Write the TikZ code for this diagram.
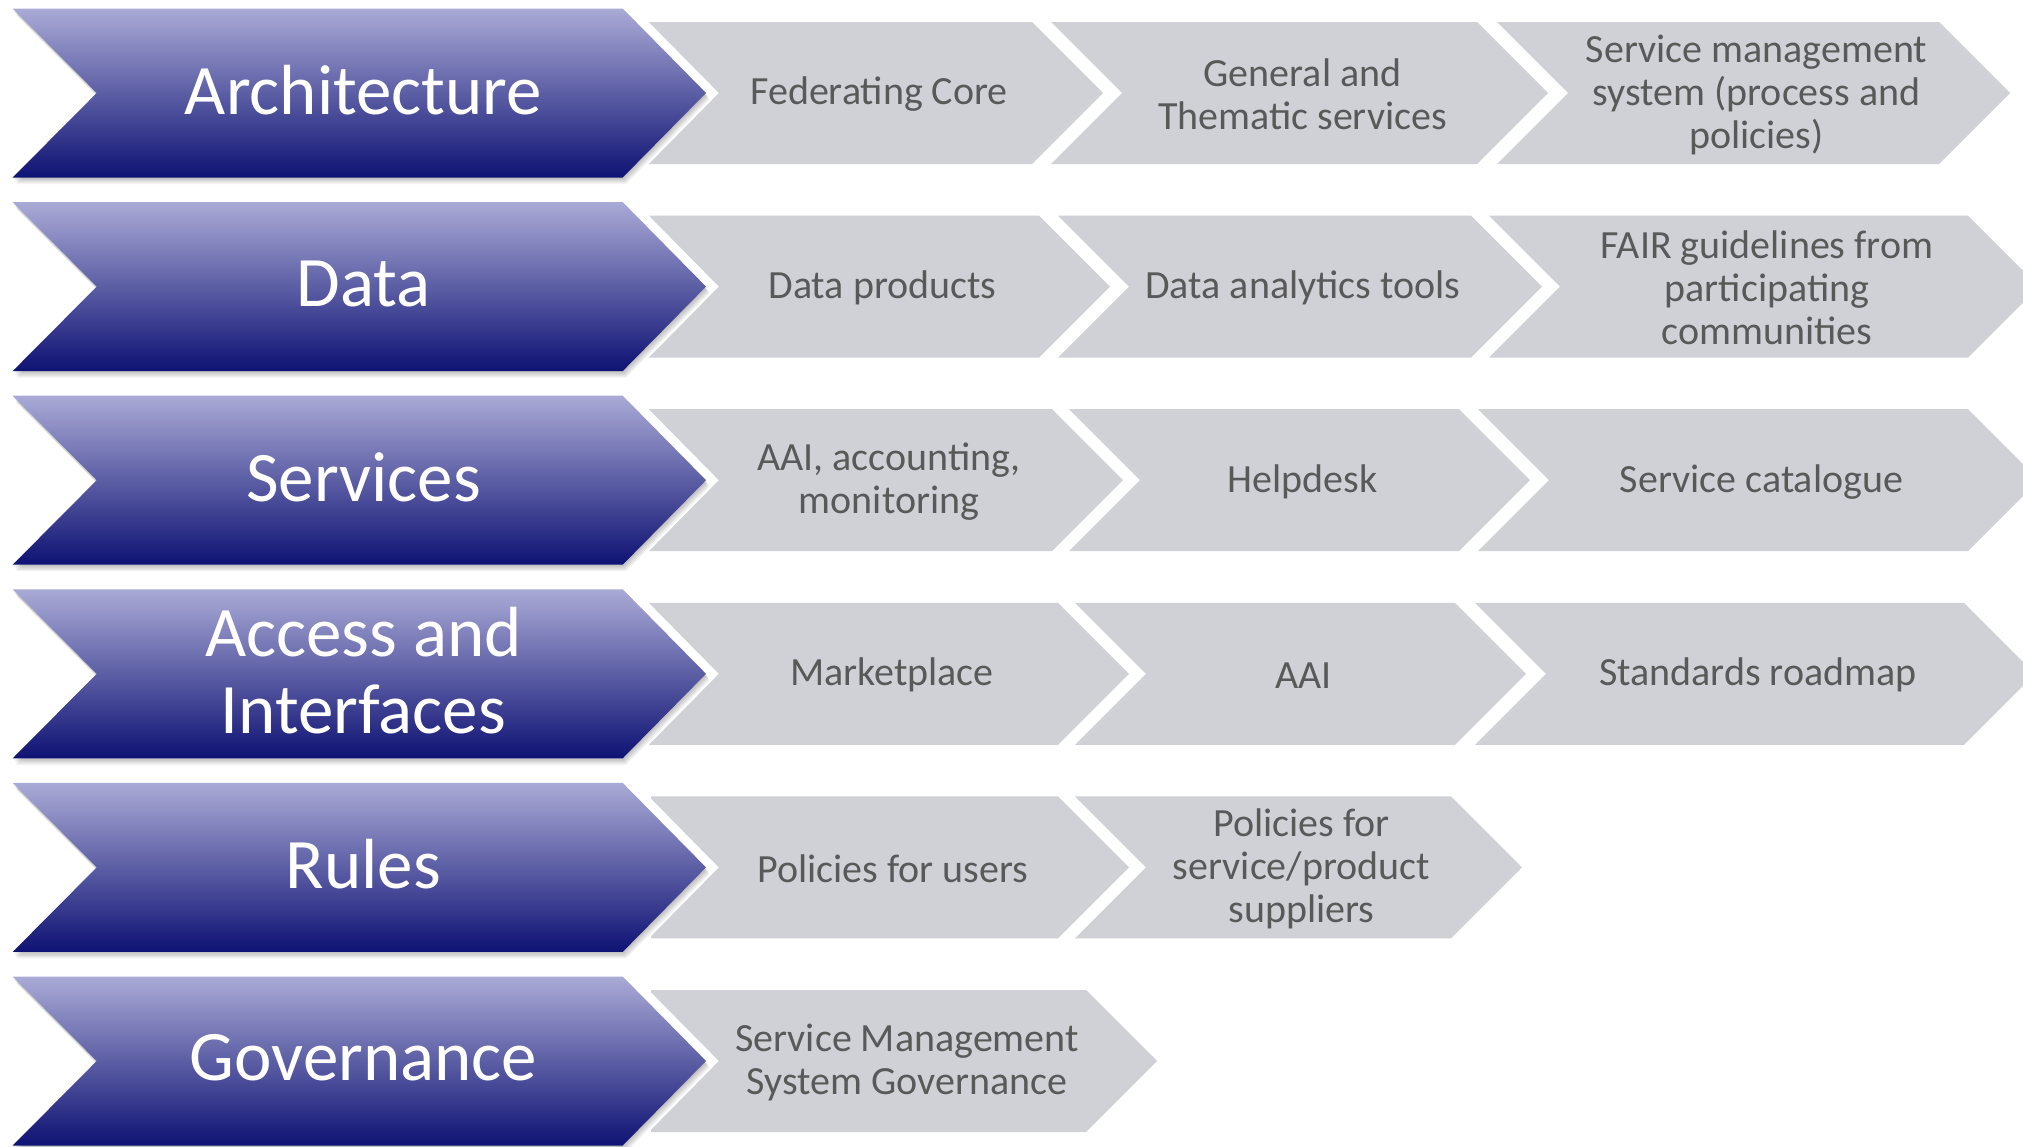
\documentclass[tikz,border=0pt]{standalone}
\usepackage{fontspec}
\setmainfont{Carlito}
\definecolor{grayfill}{RGB}{208,209,214}
\definecolor{graytxt}{RGB}{89,89,89}
\definecolor{bluetop}{RGB}{170,170,214}
\definecolor{bluemid}{RGB}{118,118,170}
\definecolor{bluebot}{RGB}{14,18,115}
\tikzset{
  bluetext/.style={text=white, align=center, font=\fontsize{71}{77}\selectfont, inner sep=0pt},
  graytext/.style={text=graytxt, align=center, font=\fontsize{40}{43}\selectfont, inner sep=0pt},
  grayshape/.style={fill=grayfill},
  blueshape/.style={top color=bluetop, middle color=bluemid, bottom color=bluebot},
  whiteedge/.style={draw=white, line width=18pt, line join=miter},
}
% blue chevron: name, centre y, text
\newcommand{\bluechev}[3]{%
  \path[whiteedge] (12.7,{#2-84.5}) -- (622.7,{#2-84.5}) -- (706,#2) -- (622.7,{#2+84.5}) -- (12.7,{#2+84.5}) -- (96.7,#2) -- cycle;
  \foreach \k in {1,...,5}{%
    \begin{scope}[shift={(\k*0.7,\k*1.3)}]
      \fill[black, opacity=0.05] (12.7,{#2-84.5}) -- (622.7,{#2-84.5}) -- (706,#2) -- (622.7,{#2+84.5}) -- (12.7,{#2+84.5}) -- (96.7,#2) -- cycle;
    \end{scope}}
  \path[blueshape] (12.7,{#2-84.5}) -- (622.7,{#2-84.5}) -- (706,#2) -- (622.7,{#2+84.5}) -- (12.7,{#2+84.5}) -- (96.7,#2) -- cycle;
  \node[bluetext] (#1) at (363.5,{#2-3}) {#3};
}
% first gray arrow (flat left): name, centre y, left x, top-right x, text
\newcommand{\grayfirst}[5]{%
  \path[grayshape] (#3,{#2-71}) -- (#4,{#2-71}) -- ({#4+71},#2) -- (#4,{#2+71}) -- (#3,{#2+71}) -- cycle;
  \node[graytext] (#1) at ({(#3+#4+71)/2+3},{#2+1.5}) {#5};
}
% notched gray chevron: name, centre y, top-left x, top-right x, text
\newcommand{\graychev}[5]{%
  \path[grayshape] (#3,{#2-71}) -- (#4,{#2-71}) -- ({#4+71},#2) -- (#4,{#2+71}) -- (#3,{#2+71}) -- ({#3+71},#2) -- cycle;
  \node[graytext] (#1) at ({(#3+#4+71)/2+3},{#2+1.5}) {#5};
}
\begin{document}
\begin{tikzpicture}[x=1pt,y=-1pt]
\useasboundingbox (0,0) rectangle (2023,1146);
\clip (0,0) rectangle (2023,1146);
\fill[white] (0,0) rectangle (2023,1146);
% row 1
\grayfirst{a1}{93}{649}{1032}{Federating Core}
\graychev{a2}{93}{1051}{1477}{General and\\Thematic services}
\graychev{a3}{93}{1497}{1939}{Service management\\system (process and\\policies)}
% row 2
\grayfirst{d1}{286.6}{649}{1039}{Data products}
\graychev{d2}{286.6}{1058}{1471}{Data analytics tools}
\graychev{d3}{286.6}{1489}{1968}{FAIR guidelines from\\participating\\communities}
% row 3
\grayfirst{s1}{480.2}{649}{1052}{AAI, accounting,\\monitoring}
\graychev{s2}{480.2}{1069}{1459}{Helpdesk}
\graychev{s3}{480.2}{1478}{1968}{Service catalogue}
% row 4
\grayfirst{i1}{673.8}{649}{1058}{Marketplace}
\graychev{i2}{673.8}{1075}{1455}{AAI}
\graychev{i3}{673.8}{1475}{1964}{Standards roadmap}
% row 5
\grayfirst{r1}{867.4}{651}{1058}{Policies for users}
\graychev{r2}{867.4}{1075}{1451}{Policies for\\service/product\\suppliers}
% row 6
\grayfirst{g1}{1061}{651}{1086}{Service Management\\System Governance}
% blue chevrons
\bluechev{arch}{93}{Architecture}
\bluechev{data}{286.6}{Data}
\bluechev{serv}{480.2}{Services}
\bluechev{acc}{673.8}{Access and\\Interfaces}
\bluechev{rules}{867.4}{Rules}
\bluechev{gov}{1061}{Governance}
\end{tikzpicture}
\end{document}
